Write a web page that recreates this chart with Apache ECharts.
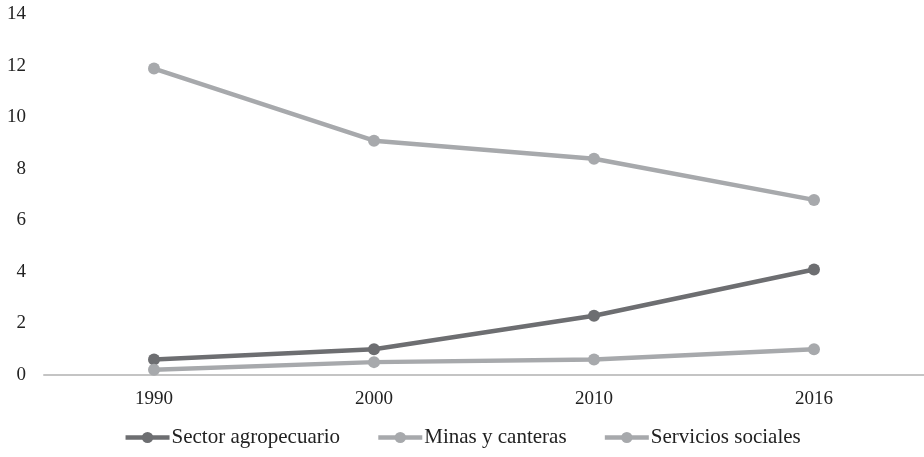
<!DOCTYPE html>
<html><head><meta charset="utf-8">
<script src="https://cdn.jsdelivr.net/npm/echarts@6/dist/echarts.min.js"></script>
<style>html,body{margin:0;padding:0;background:#fff}#c{width:924px;height:457px}</style>
</head><body><div id="c"></div>
<script>
const categories = ['1990', '2000', '2010', '2016'];
const agro = [0.6, 1.0, 2.3, 4.1];
const minas = [0.2, 0.5, 0.6, 1.0];
const servicios = [11.9, 9.1, 8.4, 6.8];
const seriesNames = ['Sector agropecuario', 'Minas y canteras', 'Servicios sociales'];
const yTicks = [0, 2, 4, 6, 8, 10, 12, 14];

const font = 'Liberation Serif';
const chart = echarts.init(document.getElementById('c'));
function mk(name, data, color) {
  return {
    name, type: 'line', data,
    symbol: 'circle', symbolSize: 12,
    lineStyle: { width: 4.5, color },
    itemStyle: { color },
    emphasis: { disabled: true }
  };
}
chart.setOption({
  animation: false,
  textStyle: { fontFamily: font },
  grid: { left: 44, right: -4, top: 14.5, bottom: 82, containLabel: false },
  legend: {
    bottom: 4, left: 'center',
    itemWidth: 44, itemHeight: 14, itemGap: 36,
    lineStyle: { width: 4.5 },
    textStyle: { fontFamily: font, fontSize: 21, color: '#222', padding: [0, 0, 0, -3] },
    data: seriesNames
  },
  xAxis: {
    type: 'category', data: categories, boundaryGap: true,
    axisLine: { lineStyle: { color: '#c4c4c4', width: 2 } },
    axisTick: { show: false },
    axisLabel: { fontFamily: font, fontSize: 19, color: '#222', margin: 15 }
  },
  yAxis: {
    type: 'value', min: yTicks[0], max: yTicks[yTicks.length - 1], interval: 2,
    splitLine: { show: false },
    axisLine: { show: false }, axisTick: { show: false },
    axisLabel: { fontFamily: font, fontSize: 19, color: '#222', margin: 18 }
  },
  series: [
    mk(seriesNames[0], agro, '#6d6e71'),
    mk(seriesNames[1], minas, '#a7a9ac'),
    mk(seriesNames[2], servicios, '#a7a9ac')
  ]
});
</script></body></html>
